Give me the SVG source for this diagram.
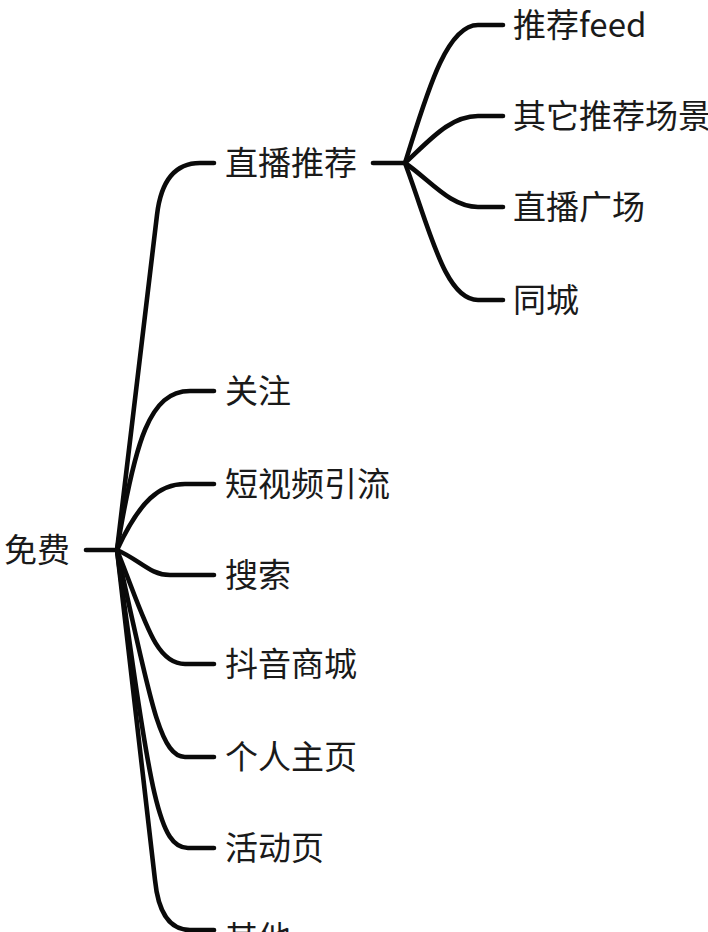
<svg xmlns="http://www.w3.org/2000/svg" width="708" height="932" viewBox="0 0 708 932">
<style>
.c{fill:none;stroke:#0a0a0a;stroke-width:4.6;stroke-linecap:round;stroke-linejoin:round}
text{font-family:"Noto Sans CJK SC","Noto Sans",sans-serif;font-size:33px;fill:#1a1a1a}
</style>
<rect width="708" height="932" fill="#fff"/>
<g id="connectors">
<path class="c" d="M86 550 H117"/>
<path class="c" d="M117 550 L157 215 Q163 163 200 163 H214"/>
<path class="c" d="M117 550 C135 440 150 391 190 391 H214"/>
<path class="c" d="M117 550 C140 500 160 484 185 484 H214"/>
<path class="c" d="M117 550 C140 560 150 575 170 575 H214"/>
<path class="c" d="M117 550 C145 620 155 664 185 664 H214"/>
<path class="c" d="M117 550 C150 700 160 757 185 757 H214"/>
<path class="c" d="M117 550 C150 800 160 848 188 848 H214"/>
<path class="c" d="M117 550 L155 880 Q160 930 190 930 H214"/>
<path class="c" d="M373 163 H405"/>
<path class="c" d="M405 163 C425 100 445 25 478 25 H503"/>
<path class="c" d="M405 163 C430 140 450 116 478 116 H503"/>
<path class="c" d="M405 163 C430 180 450 207 478 207 H503"/>
<path class="c" d="M405 163 C430 230 445 300 478 300 H503"/>
</g>
<g id="n-root"><text x="4" y="562">免费</text></g>
<g id="n-zbtj"><text x="225" y="175">直播推荐</text></g>
<g id="n-tjfeed"><text x="513" y="37">推荐feed</text></g>
<g id="n-qttj"><text x="513" y="128">其它推荐场景</text></g>
<g id="n-zbgc"><text x="513" y="219">直播广场</text></g>
<g id="n-tc"><text x="513" y="312">同城</text></g>
<g id="n-gz"><text x="225" y="403">关注</text></g>
<g id="n-dsp"><text x="225" y="496">短视频引流</text></g>
<g id="n-ss"><text x="225" y="587">搜索</text></g>
<g id="n-dysc"><text x="225" y="676">抖音商城</text></g>
<g id="n-grzy"><text x="225" y="769">个人主页</text></g>
<g id="n-hdy"><text x="225" y="860">活动页</text></g>
<g id="n-qt"><text x="225" y="950">其他</text></g>
</svg>
